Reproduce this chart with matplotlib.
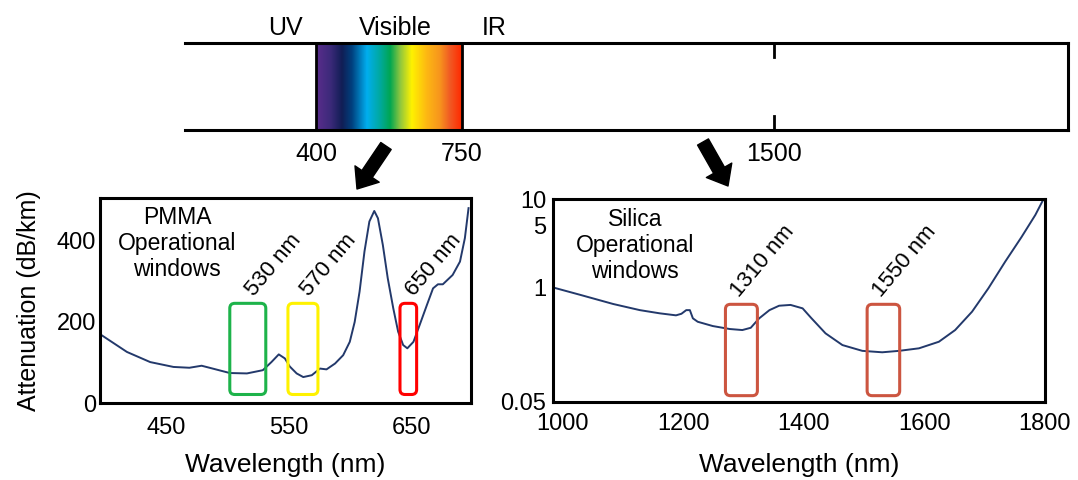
import numpy as np
import matplotlib.pyplot as plt
from matplotlib.colors import LinearSegmentedColormap
from matplotlib.patches import FancyBboxPatch
from matplotlib.transforms import blended_transform_factory

plt.rcParams['font.family'] = ['Liberation Sans', 'DejaVu Sans']

# spectrum bar (nm)
band_ticks = [400, 750, 1500]
band_names = ['UV', 'Visible', 'IR']
band_name_x = [326, 590, 828]
spec_stops = [400, 434, 462, 486, 522, 554, 578, 602, 630, 666, 698, 722, 750]
spec_colors = ['#5A2D8C', '#3C2A7A', '#111E55', '#00417F', '#00AEEF', '#00A99D',
               '#00A651', '#8DC63F', '#FFF200', '#FDB813', '#F7941D', '#F15A24', '#FF2A00']

# PMMA attenuation (dB/km)
pmma_nm = [397, 418, 437, 456, 469, 479, 488, 502, 516, 529, 536, 542, 547, 551, 556.6,
           562, 569, 575.6, 581, 588, 594.6, 600, 604, 608, 612, 616, 620, 623, 627,
           631, 635.5, 639.5, 643.6, 647, 652, 657, 663, 668, 672, 676, 684, 690, 694, 697]
pmma_att = [168, 126, 101, 89, 87, 92, 85, 74, 73, 81, 101, 120, 110, 90, 73,
            64, 68.6, 85, 83, 97.5, 118, 151, 200, 275, 374, 448, 474, 456, 390,
            308, 234, 176, 143, 135, 151, 192, 242, 283, 293, 293, 316, 349, 407, 481]
pmma_labels = ['530 nm', '570 nm', '650 nm']
pmma_lo = [502, 549.5, 641]
pmma_hi = [531.4, 574, 654.6]
pmma_colors = ['#1DB34A', '#FFF200', '#FF0000']

# silica attenuation (dB/km)
silica_nm = [985, 1029, 1084, 1128, 1161, 1188, 1197, 1205, 1211, 1216, 1224, 1249,
             1277, 1298, 1312, 1326, 1343, 1359, 1378, 1398, 1412, 1436, 1464, 1497,
             1530, 1558, 1591, 1624, 1651, 1679, 1706, 1734, 1761, 1784, 1797]
silica_att = [0.99, 0.82, 0.645, 0.55, 0.506, 0.48, 0.50, 0.55, 0.55, 0.444, 0.406, 0.363,
              0.336, 0.327, 0.347, 0.444, 0.55, 0.617, 0.63, 0.576, 0.45, 0.30, 0.221, 0.19,
              0.183, 0.19, 0.203, 0.241, 0.327, 0.528, 0.97, 1.95, 3.7, 6.6, 9.8]
silica_labels = ['1310 nm', '1550 nm']
silica_lo = [1270, 1505]
silica_hi = [1323, 1559]
silica_color = '#CC5540'

line_color = '#23396B'
W, H = 1078, 480

fig = plt.figure(figsize=(W / 100, H / 100), dpi=100)


def window_box(ax, x0, x1, y0, y1, color, radius=5):
    to_ax = ax.transData + ax.transAxes.inverted()
    (a0, b0), (a1, b1) = to_ax.transform([(x0, y0), (x1, y1)])
    pos = ax.get_position()
    w_px, h_px = pos.width * W, pos.height * H
    box = FancyBboxPatch((a0, b0), a1 - a0, b1 - b0,
                         boxstyle=f'round,pad=0,rounding_size={radius / w_px}',
                         mutation_aspect=w_px / h_px, transform=ax.transAxes,
                         fill=False, ec=color, lw=2.2, clip_on=False, zorder=3)
    ax.add_patch(box)


# ---- top bar ----
ax_top = fig.add_axes([185 / W, 1 - 130 / H, 883 / W, 87 / H])
grad = np.linspace(band_ticks[0], band_ticks[1], 600)[None, :]
pos = [(s - spec_stops[0]) / (spec_stops[-1] - spec_stops[0]) for s in spec_stops]
cmap = LinearSegmentedColormap.from_list('spec', list(zip(pos, spec_colors)))
ax_top.imshow(grad, cmap=cmap, extent=[band_ticks[0], band_ticks[1], 0, 1],
              aspect='auto', vmin=band_ticks[0], vmax=band_ticks[1])
ax_top.axvline(band_ticks[0], color='k', lw=2)
ax_top.axvline(band_ticks[1], color='k', lw=2)
ax_top.axvline(band_ticks[2], ymin=0.84, ymax=1, color='k', lw=2)
ax_top.axvline(band_ticks[2], ymin=0, ymax=0.16, color='k', lw=2)
ax_top.set_xlim(85.5, 2205)
ax_top.set_ylim(0, 1)
ax_top.spines['left'].set_visible(False)
for s in ['top', 'bottom', 'right']:
    ax_top.spines[s].set_linewidth(2.2)
ax_top.set_xticks(band_ticks)
ax_top.set_yticks([])
ax_top.tick_params(length=0, labelsize=18, pad=9)
tr = blended_transform_factory(ax_top.transData, ax_top.transAxes)
for name, x in zip(band_names, band_name_x):
    ax_top.text(x, 1.09, name, transform=tr, ha='center', va='baseline', fontsize=18)

# arrows
arrow = dict(arrowstyle='simple,head_length=1.3,head_width=2.1,tail_width=0.9',
             fc='k', ec='k', shrinkA=0, shrinkB=0, mutation_scale=10)
ax_top.annotate('', xy=(357, H - 189), xycoords='figure pixels',
                xytext=(386, H - 146), textcoords='figure pixels',
                arrowprops=arrow, annotation_clip=False)
ax_top.annotate('', xy=(728, H - 186), xycoords='figure pixels',
                xytext=(703, H - 142), textcoords='figure pixels',
                arrowprops=arrow, annotation_clip=False)

# ---- PMMA ----
ax1 = fig.add_axes([100 / W, 1 - 403 / H, 371 / W, 205 / H])
ax1.plot(pmma_nm, pmma_att, color=line_color, lw=1.4)
ax1.set_xlim(396, 699)
ax1.set_ylim(0, 506)
ax1.set_xticks([450, 550, 650])
ax1.set_yticks([0, 200, 400])
ax1.tick_params(axis='x', length=0, labelsize=17, pad=10)
ax1.tick_params(axis='y', length=0, labelsize=17, pad=3)
for s in ax1.spines.values():
    s.set_linewidth(2.2)
ax1.set_xlabel('Wavelength (nm)', fontsize=19, labelpad=10)
ax1.set_ylabel('Attenuation (dB/km)', fontsize=18, labelpad=11)
ax1.text(0.2075, 0.96, 'PMMA\nOperational\nwindows', transform=ax1.transAxes,
         ha='center', va='top', fontsize=16.5, linespacing=1.15)
for lab, lo, hi, c in zip(pmma_labels, pmma_lo, pmma_hi, pmma_colors):
    window_box(ax1, lo, hi, 21, 246, c)
    ax1.annotate(lab, xy=((lo + hi) / 2, 246), xytext=(7, 2.5), textcoords='offset points',
                 rotation=50, rotation_mode='anchor', ha='left', va='bottom', fontsize=16)

# ---- silica ----
ax2 = fig.add_axes([553 / W, 1 - 402 / H, 492 / W, 203 / H])
ax2.plot(silica_nm, silica_att, color=line_color, lw=1.4)
ax2.set_yscale('log')
ax2.set_xlim(984, 1800)
ax2.set_ylim(0.05, 10)
ax2.set_xticks([1000, 1200, 1400, 1600, 1800])
ax2.set_yticks([0.05, 1, 5, 10])
ax2.set_yticklabels(['0.05', '1', '5', '10'])
ax2.minorticks_off()
ax2.tick_params(axis='x', length=0, labelsize=17, pad=8)
ax2.tick_params(axis='y', length=0, labelsize=17, pad=5)
for s in ax2.spines.values():
    s.set_linewidth(2.2)
ax2.set_xlabel('Wavelength (nm)', fontsize=19, labelpad=13)
ax2.text(0.167, 0.955, 'Silica\nOperational\nwindows', transform=ax2.transAxes,
         ha='center', va='top', fontsize=16.5, linespacing=1.15)
for lab, lo, hi in zip(silica_labels, silica_lo, silica_hi):
    window_box(ax2, lo, hi, 0.059, 0.64, silica_color)
    ax2.annotate(lab, xy=((lo + hi) / 2, 0.64), xytext=(1, 2.5), textcoords='offset points',
                 rotation=50, rotation_mode='anchor', ha='left', va='bottom', fontsize=16)

fig.savefig('out.png', dpi=100)
